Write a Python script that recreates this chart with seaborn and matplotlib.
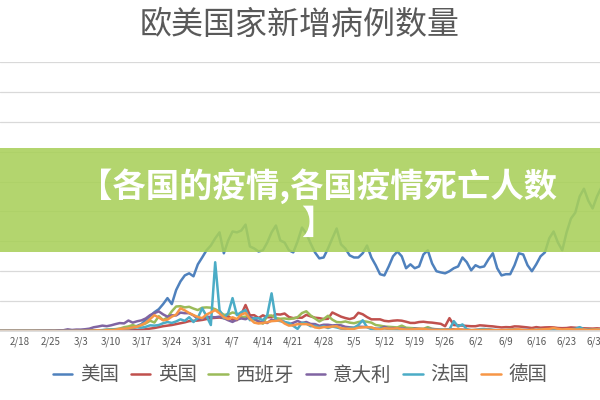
import numpy as np
import pandas as pd
import matplotlib.pyplot as plt
import seaborn as sns
from matplotlib.patches import Rectangle

# 2/13 - 7/1 daily new cases
dates = pd.date_range("2020-02-13", "2020-07-01")

us = [0, 0, 0, 0, 0,
      0, 0, 0, 0, 0, 1, 1,
      2, 3, 5, 8, 12, 18, 25,
      50, 80, 120, 150, 200, 280, 350,
      450, 550, 650, 800, 1000, 1300, 1700,
      2300, 3700, 5000, 6300, 7300, 9000, 11000,
      9000, 13700, 16600, 18600, 19300, 18300, 22300,
      24600, 27000, 28600, 31000, 33000, 26000, 30300,
      33300, 33000, 33600, 35600, 28300, 27600, 26600,
      27000, 29600, 33000, 35300, 30300, 29600, 27000,
      26300, 30000, 34600, 32600, 29300, 26300, 24300,
      24600, 27600, 31000, 34300, 29000, 27600, 25300,
      24600, 24600, 26000, 28600, 24600, 22000, 19000,
      18600, 21600, 25000, 26600, 25000, 21000, 22300,
      21000, 21600, 25600, 27000, 22600, 20000, 19600,
      19300, 20000, 21000, 21600, 24600, 23000, 20300,
      22000, 21300, 21600, 24000, 26000, 21000, 18600,
      19000, 19000, 22000, 26000, 25600, 22000, 20000,
      22300, 25000, 26300, 31000, 33300, 29600, 27000,
      33000, 37600, 39600, 45000, 47600, 43600, 41000,
      45000, 48000]

uk = [0, 0, 0, 0, 0,
      0, 0, 0, 0, 0, 0, 0,
      0, 0, 2, 3, 5, 3, 13,
      4, 11, 34, 29, 46, 43, 67,
      48, 52, 83, 134, 208, 342, 251,
      400, 600, 800, 1000, 1300, 1600, 1800,
      2000, 2300, 2600, 2900, 3300, 3400, 3500,
      3700, 4000, 4300, 4400, 4500, 4300, 5000,
      3800, 3630, 5490, 8700, 5230, 5290, 4340,
      5250, 4600, 4620, 5600, 5500, 5850, 4680,
      4300, 4450, 4450, 5400, 4900, 4450, 4300,
      4000, 4080, 6200, 5500, 4800, 4340, 3990,
      4400, 6100, 5600, 4650, 3900, 3900, 3900,
      3400, 3240, 3450, 3560, 3450, 3100, 2700,
      2700, 3000, 3100, 2900, 2800, 2600, 2400,
      1600, 4300, 2000, 1900, 1800, 1700, 1600,
      1600, 1900, 1800, 1650, 1550, 1350, 1200,
      1300, 1250, 1550, 1500, 1350, 1200, 1000,
      1300, 1100, 1200, 1250, 1200, 1000, 950,
      1000, 1200, 1100, 1000, 900, 850, 800,
      900, 800]

spain = [0, 0, 0, 0, 0,
         0, 0, 0, 0, 0, 0, 0,
         4, 3, 5, 9, 13, 13, 30,
         40, 60, 80, 120, 160, 250, 430,
         530, 620, 800, 1270, 1520, 2000, 1440,
         1990, 2540, 3430, 2830, 4950, 3650, 4520,
         6580, 8200, 8300, 7900, 8100, 7500, 7000,
         7800, 7900, 7800, 7300, 6500, 5400, 5500,
         6200, 5800, 4600, 4800, 4200, 3800, 3300,
         2450, 5100, 5200, 4300, 4100, 4200, 4000,
         4200, 4600, 6000, 6600, 5200, 4200, 3200,
         4000, 5100, 3800, 3000, 2900, 3200, 2800,
         2600, 3000, 3300, 3100, 2800, 2000, 1800,
         1500, 1400, 1300, 1200, 1800, 1100, 1000,
         900, 800, 700, 1300, 700, 600, 500,
         450, 400, 350, 300, 300, 300, 250,
         300, 300, 250, 300, 250, 200, 250,
         250, 300, 350, 300, 250, 250, 300,
         250, 300, 350, 300, 250, 300, 350,
         300, 350, 400, 350, 300, 350, 400,
         350, 400]

italy = [0, 0, 0, 0, 0,
         0, 0, 0, 15, 45, 60, 95,
         130, 100, 250, 240, 560, 340, 470,
         460, 590, 780, 1250, 1490, 1800, 1600,
         1900, 2300, 2650, 2550, 3500, 2800, 3250,
         3550, 4200, 5300, 5990, 6560, 5560, 4790,
         5250, 5210, 6150, 5960, 5970, 5220, 4050,
         4050, 4780, 4670, 4590, 4800, 4320, 3600,
         3040, 3840, 4200, 3950, 4690, 4090, 3150,
         2970, 2670, 3790, 3490, 3490, 3050, 2260,
         2730, 3370, 2650, 3020, 2360, 2320, 1740,
         2090, 2090, 1870, 1970, 1900, 1390, 1220,
         1080, 1440, 1400, 1330, 1080, 800, 740,
         1400, 890, 990, 790, 880, 680, 450,
         810, 670, 640, 650, 670, 530, 300,
         400, 580, 590, 520, 420, 360, 180,
         320, 320, 180, 520, 270, 200, 280,
         280, 200, 380, 160, 350, 340, 300,
         210, 330, 330, 250, 260, 220, 220,
         120, 190, 300, 260, 180, 170, 130,
         140, 180]

france = [0, 0, 0, 0, 0,
          0, 0, 0, 0, 0, 0, 0,
          2, 3, 4, 20, 20, 40, 30,
          50, 60, 90, 150, 200, 240, 300,
          400, 500, 600, 800, 900, 1000, 1200,
          1100, 1400, 1900, 1800, 2000, 2600, 3000,
          2700, 3200, 3900, 3400, 4600, 3000, 4400,
          7600, 5000, 2000, 23000, 7000, 4300, 6000,
          11000, 5300, 6300, 7000, 3600, 4300, 4300,
          3600, 5300, 12600, 3600, 3300, 3000, 2700,
          1700, 700, 2800, 2500, 1600, 1700, 1200,
          1600, 1000, 1500, 1200, 800, 600, 1000,
          1100, 2000, 3600, 1300, 600, 500, 800,
          900, 700, 600, 500, 400, 500, 400,
          500, 600, 400, 700, 500, 300, 400,
          300, 500, 3300, 1500, 2200, 600, 300,
          300, 600, 700, 500, 400, 300, 200,
          300, 400, 500, 400, 300, 300, 200,
          400, 500, 400, 500, 400, 300, 300,
          500, 600, 700, 1300, 600, 400, 300,
          500, 600]

germany = [0, 0, 0, 0, 0,
           0, 0, 0, 0, 0, 0, 0,
           0, 2, 10, 20, 30, 20, 60,
           30, 50, 100, 150, 240, 100, 300,
           260, 400, 700, 800, 900, 1200, 1400,
           2000, 2800, 4000, 5300, 4500, 3600, 3800,
           4800, 5500, 7600, 6900, 6000, 5300, 4700,
           4300, 5500, 6200, 7000, 5900, 4600, 4000,
           4600, 4000, 5500, 6000, 4100, 2800, 2500,
           2700, 2900, 3300, 3400, 3600, 2500, 1800,
           1900, 2300, 2300, 2300, 2000, 1200, 1000,
           1300, 1300, 1500, 1600, 900, 800, 700,
           700, 1100, 1200, 1300, 1200, 700, 500,
           900, 800, 800, 900, 600, 500, 500,
           600, 700, 700, 500, 400, 400, 300,
           400, 400, 500, 700, 400, 300, 300,
           350, 350, 400, 400, 300, 250, 300,
           350, 400, 500, 550, 350, 250, 400,
           350, 500, 600, 700, 1000, 700, 500,
           600, 600, 500, 500, 500, 300, 400,
           500, 450]

countries = ["美国", "英国", "西班牙", "意大利", "法国", "德国"]
colors = ["#4F81BD", "#C0504D", "#9BBB59", "#8064A2", "#4BACC6", "#F79646"]

day = (dates - pd.Timestamp("2020-02-18")).days
df = pd.DataFrame({
    "day": np.tile(day, len(countries)),
    "国家": np.repeat(countries, len(dates)),
    "新增": np.concatenate([us, uk, spain, italy, france, germany]),
})

sns.set_theme(style="white")
plt.rcParams['font.family'] = ['Noto Sans CJK SC', 'DejaVu Sans']

fig = plt.figure(figsize=(6, 4), dpi=100)
ax = fig.add_axes([0, 0.1725, 1, 0.6725])

sns.lineplot(data=df, x="day", y="新增", hue="国家", palette=colors,
             linewidth=1.8, ax=ax, legend=False)

ax.set_xlim(-4.6, 133.7)
ax.set_ylim(0, 90000)
ax.set_yticks(range(0, 90001, 10000))
ax.yaxis.grid(True, color="#D9D9D9", linewidth=0.9)
ax.set_axisbelow(True)
tick_days = list(range(0, 134, 7))
tick_labels = [f"{d.month}/{d.day}" for d in pd.Timestamp("2020-02-18") + pd.to_timedelta(tick_days, unit="D")]
ax.set_xticks(tick_days)
ax.set_xticklabels(tick_labels, fontsize=7, color="#595959")
ax.tick_params(axis="x", length=0, pad=4)
ax.tick_params(axis="y", length=0, labelleft=False)
ax.set_xlabel("")
ax.set_ylabel("")
for s in ["top", "left", "right"]:
    ax.spines[s].set_visible(False)
ax.spines["bottom"].set_color("#D9D9D9")

fig.text(0.5, 1 - 25 / 400, "欧美国家新增病例数量", ha="center", va="center",
         fontsize=23, color="#595959")

# legend
handles = [plt.Line2D([], [], color=c, lw=1.8) for c in colors]
fig.legend(handles, countries, loc="center", bbox_to_anchor=(0.5, 0.0625),
           ncol=6, frameon=False, fontsize=14, handlelength=1.0,
           handletextpad=0.4, columnspacing=0.6, labelcolor="#595959")

# green banner
fig.add_artist(Rectangle((0, 1 - 252 / 400), 1, 104 / 400, transform=fig.transFigure,
                         facecolor="#A9D05A", edgecolor="none", alpha=0.88, zorder=5))
fig.text(0.53, 1 - 186 / 400, "【各国的疫情,各国疫情死亡人数", ha="center", va="center",
         fontsize=24, fontweight="bold", color="white", zorder=6)
fig.text(0.53, 1 - 224 / 400, "】", ha="center", va="center",
         fontsize=24, fontweight="bold", color="white", zorder=6)

fig.savefig("out.png", dpi=100)
